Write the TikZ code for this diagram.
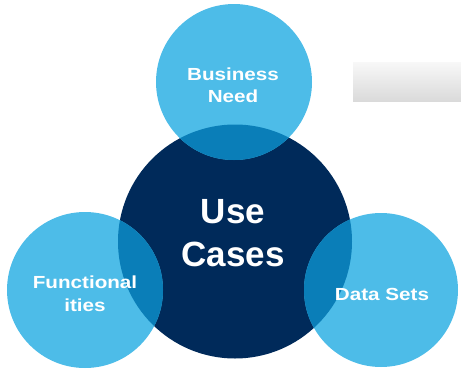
\documentclass[tikz,border=0pt]{standalone}
\usepackage{fontspec}
\setmainfont{Liberation Sans}
\newfontfamily\widebold[FakeStretch=1.18]{Liberation Sans Bold}
\usetikzlibrary{shadings}
\definecolor{navy}{HTML}{002A5A}
\definecolor{skyblue}{HTML}{4DBCE8}
\definecolor{overlapblue}{HTML}{0A7EB8}
\definecolor{panetop}{HTML}{F8F8F8}
\definecolor{panebottom}{HTML}{DADADA}
\tikzset{
  small label/.style={text=white, anchor=base, inner sep=0pt,
    font=\widebold\fontsize{17.5}{21}\selectfont},
  big label/.style={text=white, anchor=base, inner sep=0pt,
    font=\bfseries\fontsize{35}{42}\selectfont},
}
\begin{document}
\begin{tikzpicture}[x=1pt,y=-1pt]
  \useasboundingbox (0,0) rectangle (461,375);
  % centres and radii of the four circles
  \coordinate (core) at (235,241.5);
  \coordinate (need) at (234,82);
  \coordinate (func) at (85,290);
  \coordinate (data) at (381,290);
  \def\coreR{117}
  \def\satR{78}

  % grey panel
  \shade[top color=panetop, bottom color=panebottom] (353,62) rectangle (461,101);

  % central circle and the three satellites
  \fill[navy] (core) circle (\coreR);
  \fill[skyblue] (need) circle (\satR);
  \fill[skyblue] (func) circle (\satR);
  \fill[skyblue] (data) circle (77);

  % lens-shaped overlaps
  \begin{scope}
    \clip (core) circle (\coreR);
    \fill[overlapblue] (need) circle (\satR);
    \fill[overlapblue] (func) circle (\satR);
    \fill[overlapblue] (data) circle (77);
  \end{scope}

  % labels
  \node[big label] (use1) at (233,223) {Use};
  \node[big label] (use2) at (233,266) {Cases};
  \node[small label] (need1) at (233,80) {Business};
  \node[small label] (need2) at (233,102) {Need};
  \node[small label] (func1) at (85,288) {Functional};
  \node[small label] (func2) at (85,311) {ities};
  \node[small label] (data1) at (382,300) {Data Sets};
\end{tikzpicture}
\end{document}
